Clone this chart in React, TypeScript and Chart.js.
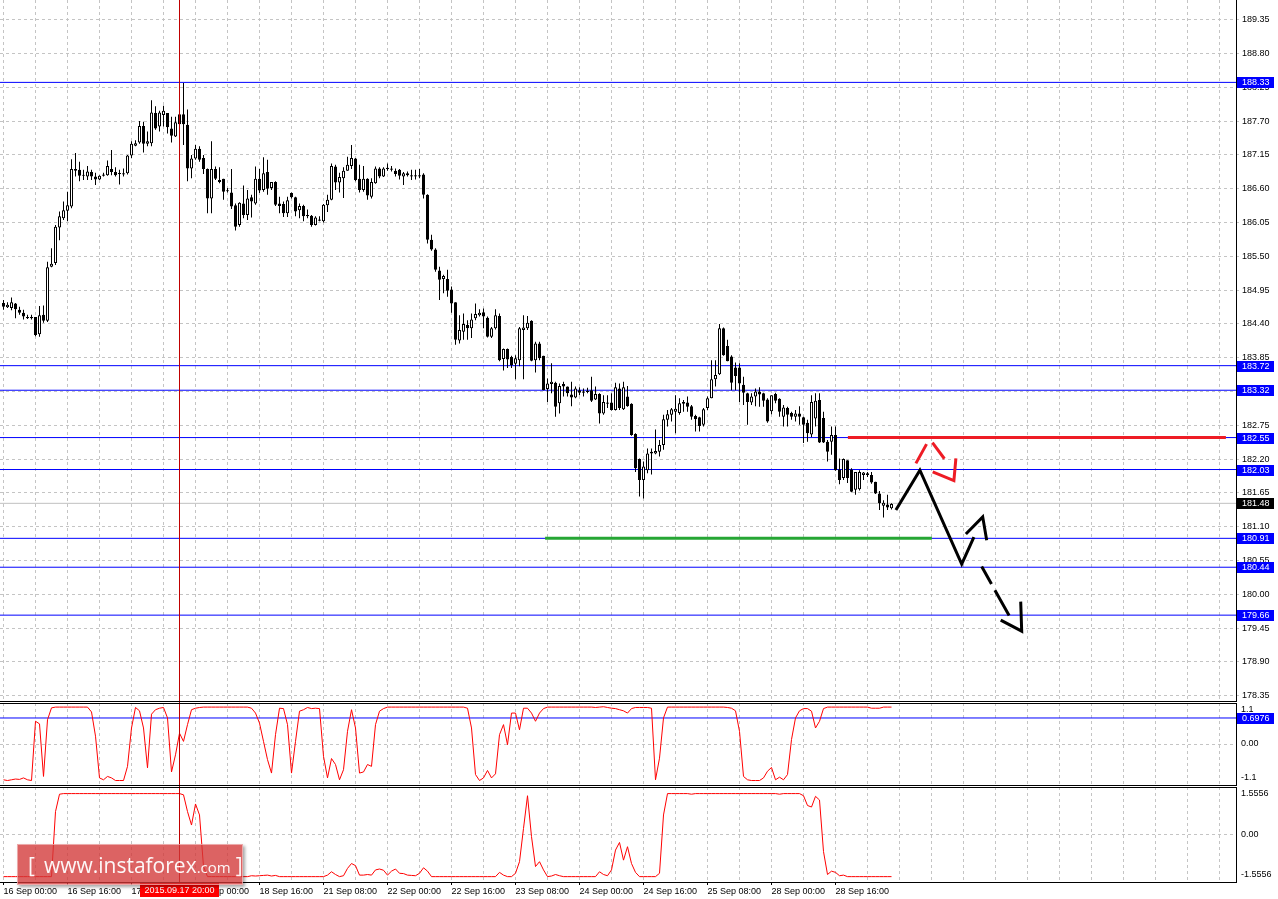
import React, { useEffect, useRef } from 'react';
import { Chart, registerables } from 'chart.js';

Chart.register(...registerables);

// ---------- DATA ----------
const opens = [
  184.74, 184.67, 184.66, 184.73, 184.63, 184.58, 184.51, 184.49, 184.51, 184.23,
  184.55, 184.45, 185.33, 185.39, 185.97, 186.12, 186.24, 186.31, 186.92, 186.91,
  186.81, 186.80, 186.87, 186.80, 186.75, 186.81, 186.82, 186.92, 186.87, 186.85,
  186.83, 186.85, 187.14, 187.30, 187.35, 187.62, 187.33, 187.34, 187.83, 187.61,
  187.80, 187.83, 187.58, 187.45, 187.65, 187.81, 187.64, 186.93, 187.09, 187.25,
  187.10, 186.92, 186.44, 186.92, 186.71, 186.76, 186.56, 186.54, 186.33, 186.01,
  186.36, 186.17, 186.46, 186.36, 186.76, 186.58, 186.87, 186.61, 186.71, 186.36,
  186.35, 186.20, 186.53, 186.46, 186.25, 186.32, 186.17, 186.16, 186.01, 186.08,
  186.07, 186.33, 186.42, 186.96, 186.70, 186.77, 186.89, 186.97, 187.09, 186.76,
  186.58, 186.76, 186.47, 186.69, 186.93, 186.80, 186.94, 186.91, 186.89, 186.91,
  186.80, 186.85, 186.82, 186.82, 186.82, 186.83, 186.50, 185.77, 185.61, 185.27,
  185.13, 185.13, 184.96, 184.75, 184.13, 184.27, 184.38, 184.33, 184.49, 184.54,
  184.59, 184.50, 184.19, 184.33, 184.53, 183.83, 183.99, 183.86, 183.75, 183.81,
  184.30, 184.33, 184.45, 183.81, 184.08, 183.88, 183.34, 183.42, 183.44, 183.11,
  183.42, 183.38, 183.25, 183.20, 183.32, 183.30, 183.29, 183.32, 183.17, 183.26,
  182.94, 183.12, 183.12, 183.00, 183.35, 183.01, 183.22, 183.10, 182.61, 182.20,
  181.86, 182.02, 182.32, 182.29, 182.32, 182.43, 182.84, 182.92, 182.97, 182.95,
  183.10, 183.12, 183.06, 182.90, 182.88, 182.76, 183.03, 183.19, 183.50, 183.58,
  184.33, 184.04, 183.87, 183.69, 183.69, 183.41, 183.27, 183.12, 183.22, 183.30,
  183.27, 183.17, 182.98, 183.26, 183.18, 182.89, 183.03, 182.95, 182.89, 182.94,
  182.88, 182.79, 182.60, 182.86, 183.16, 182.87, 182.48, 182.48, 182.59, 182.03,
  181.89, 182.18, 182.03, 181.70, 181.71, 181.94, 181.97, 181.94, 181.83, 181.64,
  181.44, 181.46, 181.40,
];
const highs = [
  184.79, 184.75, 184.83, 184.74, 184.68, 184.63, 184.55, 184.55, 184.51, 184.69,
  184.70, 185.41, 185.63, 186.01, 186.23, 186.39, 186.55, 187.08, 187.18, 187.04,
  186.91, 186.97, 186.91, 186.86, 186.82, 186.86, 187.06, 187.23, 186.95, 186.91,
  186.93, 187.15, 187.37, 187.39, 187.70, 187.69, 187.53, 188.04, 187.94, 187.87,
  187.95, 187.83, 187.77, 187.77, 187.92, 188.32, 187.89, 187.15, 187.31, 187.29,
  187.15, 186.93, 187.37, 186.96, 186.95, 186.76, 186.61, 186.92, 186.36, 186.38,
  186.65, 186.58, 186.50, 186.96, 186.92, 187.11, 187.07, 186.71, 186.72, 186.47,
  186.39, 186.47, 186.54, 186.47, 186.36, 186.34, 186.26, 186.17, 186.15, 186.15,
  186.35, 186.50, 187.01, 186.99, 186.86, 186.95, 187.12, 187.31, 187.10, 186.99,
  186.97, 186.77, 186.77, 186.96, 186.95, 186.95, 187.01, 186.97, 186.93, 186.92,
  186.87, 186.88, 186.91, 186.91, 186.92, 186.85, 186.51, 185.85, 185.63, 185.33,
  185.20, 185.28, 185.01, 184.75, 184.54, 184.57, 184.46, 184.57, 184.73, 184.64,
  184.65, 184.52, 184.35, 184.64, 184.57, 184.00, 184.00, 183.88, 183.89, 184.35,
  184.54, 184.53, 184.46, 184.11, 184.11, 183.88, 183.51, 183.76, 183.46, 183.43,
  183.46, 183.38, 183.46, 183.38, 183.37, 183.35, 183.36, 183.54, 183.38, 183.27,
  183.24, 183.24, 183.27, 183.44, 183.43, 183.46, 183.39, 183.11, 182.62, 182.21,
  182.16, 182.37, 182.37, 182.68, 182.51, 182.92, 183.00, 183.03, 183.24, 183.19,
  183.16, 183.22, 183.08, 182.92, 182.89, 183.03, 183.22, 183.81, 183.81, 184.40,
  184.34, 184.14, 183.89, 183.77, 183.76, 183.54, 183.28, 183.27, 183.35, 183.37,
  183.28, 183.19, 183.24, 183.28, 183.19, 183.08, 183.05, 182.97, 183.00, 183.06,
  182.89, 182.84, 183.24, 183.27, 183.27, 182.97, 182.51, 182.73, 182.73, 182.21,
  182.21, 182.18, 182.05, 181.99, 182.02, 181.99, 181.99, 181.99, 181.83, 181.68,
  181.53, 181.62, 181.48,
];
const lows = [
  184.63, 184.66, 184.62, 184.49, 184.55, 184.47, 184.48, 184.47, 184.20, 184.19,
  184.42, 184.43, 185.32, 185.36, 185.76, 186.09, 186.07, 186.28, 186.80, 186.72,
  186.74, 186.74, 186.74, 186.66, 186.74, 186.80, 186.81, 186.82, 186.80, 186.67,
  186.80, 186.83, 187.10, 187.29, 187.33, 187.19, 187.29, 187.29, 187.56, 187.53,
  187.61, 187.50, 187.35, 187.44, 187.60, 187.31, 186.72, 186.77, 187.07, 187.04,
  186.84, 186.20, 186.20, 186.74, 186.69, 186.42, 186.54, 186.27, 185.92, 185.98,
  186.12, 186.09, 186.13, 186.34, 186.53, 186.55, 186.50, 186.58, 186.32, 186.20,
  186.14, 186.14, 186.44, 186.15, 186.12, 186.07, 186.12, 185.98, 186.00, 186.07,
  186.05, 186.22, 186.41, 186.58, 186.54, 186.45, 186.89, 186.92, 186.72, 186.54,
  186.55, 186.42, 186.44, 186.68, 186.77, 186.79, 186.89, 186.88, 186.80, 186.75,
  186.66, 186.80, 186.74, 186.75, 186.77, 186.44, 185.71, 185.59, 185.25, 184.79,
  184.90, 184.84, 184.58, 184.06, 184.08, 184.14, 184.14, 184.17, 184.46, 184.52,
  184.33, 184.18, 184.17, 184.31, 183.79, 183.64, 183.68, 183.68, 183.50, 183.71,
  183.50, 184.30, 183.79, 183.61, 183.81, 183.32, 183.13, 183.27, 182.89, 182.94,
  183.22, 183.22, 183.06, 183.19, 183.24, 183.22, 183.27, 183.13, 183.16, 182.78,
  182.92, 183.03, 182.99, 182.99, 183.00, 183.00, 183.05, 182.58, 181.99, 181.59,
  181.56, 181.97, 181.95, 182.28, 182.24, 182.35, 182.73, 182.81, 182.62, 182.92,
  182.97, 182.97, 182.84, 182.65, 182.65, 182.73, 183.00, 183.19, 183.38, 183.57,
  183.88, 183.79, 183.32, 183.32, 183.13, 183.08, 182.76, 183.08, 183.06, 183.05,
  183.05, 182.79, 182.93, 183.11, 182.89, 182.73, 182.73, 182.84, 182.81, 182.76,
  182.46, 182.48, 182.56, 182.73, 182.46, 182.46, 182.16, 182.27, 182.01, 181.79,
  181.86, 181.81, 181.66, 181.62, 181.69, 181.86, 181.91, 181.80, 181.63, 181.37,
  181.25, 181.37, 181.38,
];
const closes = [
  184.68, 184.71, 184.75, 184.64, 184.58, 184.52, 184.49, 184.51, 184.22, 184.54,
  184.45, 185.32, 185.38, 185.98, 186.15, 186.25, 186.33, 186.92, 186.89, 186.81,
  186.81, 186.88, 186.80, 186.75, 186.81, 186.83, 186.97, 186.87, 186.82, 186.84,
  186.85, 187.14, 187.33, 187.34, 187.62, 187.33, 187.37, 187.84, 187.58, 187.84,
  187.87, 187.60, 187.46, 187.68, 187.81, 187.65, 186.93, 187.09, 187.25, 187.07,
  186.92, 186.44, 186.92, 186.76, 186.74, 186.55, 186.56, 186.31, 185.98, 186.37,
  186.17, 186.44, 186.39, 186.76, 186.57, 186.85, 186.60, 186.71, 186.34, 186.32,
  186.20, 186.41, 186.46, 186.23, 186.32, 186.15, 186.15, 186.01, 186.13, 186.10,
  186.34, 186.42, 186.97, 186.70, 186.79, 186.89, 186.99, 187.10, 186.74, 186.58,
  186.76, 186.49, 186.71, 186.93, 186.80, 186.93, 186.92, 186.93, 186.84, 186.81,
  186.85, 186.82, 186.80, 186.80, 186.80, 186.50, 185.77, 185.61, 185.28, 185.12,
  185.18, 184.94, 184.73, 184.14, 184.30, 184.40, 184.33, 184.47, 184.56, 184.58,
  184.52, 184.19, 184.33, 184.54, 183.81, 183.99, 183.82, 183.73, 183.84, 184.33,
  184.34, 184.42, 183.80, 184.08, 183.84, 183.32, 183.43, 183.46, 183.05, 183.39,
  183.38, 183.27, 183.20, 183.35, 183.28, 183.28, 183.31, 183.15, 183.26, 182.94,
  183.13, 183.10, 183.00, 183.37, 183.03, 183.37, 183.06, 182.59, 182.05, 181.86,
  182.08, 182.29, 182.29, 182.33, 182.43, 182.85, 182.93, 183.01, 183.02, 183.11,
  183.13, 183.05, 182.89, 182.85, 182.74, 183.01, 183.19, 183.50, 183.57, 184.33,
  183.89, 183.79, 183.44, 183.55, 183.43, 183.28, 183.13, 183.22, 183.30, 183.25,
  183.15, 182.81, 183.24, 183.15, 182.97, 183.04, 182.92, 182.89, 182.94, 182.89,
  182.76, 182.62, 183.13, 183.15, 182.47, 182.47, 182.32, 182.59, 182.02, 181.86,
  182.20, 181.89, 181.67, 181.99, 181.99, 181.98, 181.94, 181.82, 181.64, 181.48,
  181.49, 181.41, 181.47,
];

// indicator panel 1 (range -1.1 .. 1.1)
const fisherValues = [
  -0.96, -0.98, -0.96, -0.94, -0.95, -0.91, -0.96, -0.98, 0.61, 0.54,
  -0.87, 0.65, 0.97, 0.99, 0.99, 0.99, 0.99, 0.99, 0.99, 0.99,
  0.99, 0.99, 0.86, 0.21, -0.91, -0.96, -0.87, -0.91, -0.98, -0.98,
  -0.98, -0.60, 0.43, 0.98, 0.89, 0.43, -0.64, 0.80, 0.92, 0.96,
  0.98, 0.70, -0.75, -0.29, 0.29, 0.07, 0.52, 0.92, 0.96, 0.98,
  0.99, 0.99, 0.99, 0.99, 0.99, 0.99, 0.99, 0.99, 0.99, 0.99,
  0.99, 0.99, 0.96, 0.83, 0.56, 0.07, -0.42, -0.78, 0.25, 0.96,
  0.95, 0.52, -0.78, 0.07, 0.88, 0.92, 0.98, 0.95, 0.96, 0.95,
  -0.33, -0.91, -0.39, -0.55, -0.96, -0.69, 0.34, 0.92, 0.43, -0.78,
  -0.75, -0.55, -0.60, 0.52, 0.88, 0.95, 0.99, 0.99, 0.99, 0.99,
  0.99, 0.99, 0.99, 0.99, 0.99, 0.99, 0.99, 0.99, 0.99, 0.99,
  0.99, 0.99, 0.99, 0.99, 0.99, 0.99, 0.96, 0.43, -0.82, -0.98,
  -0.91, -0.71, -0.91, -0.80, 0.25, 0.52, -0.02, 0.83, 0.83, 0.38,
  0.96, 0.96, 0.83, 0.61, 0.83, 0.95, 0.99, 0.99, 0.99, 0.99,
  0.99, 0.99, 0.99, 0.99, 0.99, 0.99, 0.99, 0.99, 0.98, 0.99,
  1.00, 0.98, 0.96, 0.95, 0.92, 0.89, 0.83, 0.95, 0.98, 0.98,
  0.98, 0.98, 0.96, -0.96, -0.38, 0.70, 0.99, 0.99, 0.99, 0.99,
  0.99, 0.99, 0.99, 0.99, 0.99, 0.99, 0.99, 0.99, 0.99, 0.99,
  0.99, 0.98, 0.96, 0.89, 0.34, -0.87, -0.96, -0.98, -0.98, -0.98,
  -0.91, -0.73, -0.63, -0.96, -0.89, -0.96, -0.82, 0.12, 0.70, 0.89,
  0.95, 0.95, 0.88, 0.43, 0.61, 0.95, 0.99, 0.99, 0.99, 0.99,
  0.99, 0.99, 0.99, 0.99, 0.99, 0.99, 0.99, 0.96, 0.96, 0.96,
  0.99, 0.99, 0.99,
];

// indicator panel 2 (range -1.5556 .. 1.5556)
const oscValues = [
  -1.38, -1.38, -1.38, -1.38, -1.38, -1.38, -1.38, -1.38, -1.38, -1.38,
  -1.38, -1.38, -1.38, 0.75, 1.32, 1.34, 1.34, 1.34, 1.34, 1.34,
  1.34, 1.34, 1.34, 1.34, 1.34, 1.34, 1.34, 1.34, 1.34, 1.34,
  1.34, 1.34, 1.34, 1.34, 1.34, 1.34, 1.34, 1.34, 1.34, 1.34,
  1.34, 1.34, 1.34, 1.34, 1.34, 1.30, 0.75, 0.31, 1.00, 0.64,
  -1.05, -1.38, -1.38, -1.38, -1.38, -1.38, -1.38, -1.38, -1.38, -1.38,
  -1.38, -1.38, -1.35, -1.36, -1.35, -1.34, -1.33, -1.36, -1.34, -1.38,
  -1.38, -1.38, -1.38, -1.38, -1.38, -1.38, -1.38, -1.38, -1.38, -1.38,
  -1.38, -1.33, -1.22, -1.31, -1.38, -1.35, -1.11, -0.95, -1.02, -1.33,
  -1.33, -1.31, -1.33, -1.16, -1.13, -1.17, -1.33, -1.20, -1.13, -1.27,
  -1.28, -1.33, -1.34, -1.35, -1.27, -1.09, -1.20, -1.38, -1.38, -1.38,
  -1.38, -1.38, -1.38, -1.38, -1.38, -1.38, -1.38, -1.38, -1.38, -1.38,
  -1.38, -1.38, -1.38, -1.38, -1.24, -1.33, -1.38, -1.38, -1.27, -0.89,
  0.20, 1.27, -0.07, -1.05, -0.89, -1.16, -1.38, -1.36, -1.31, -1.35,
  -1.38, -1.38, -1.38, -1.38, -1.38, -1.38, -1.38, -1.38, -1.38, -1.22,
  -1.31, -1.35, -1.16, -0.51, -0.26, -0.84, -0.40, -0.95, -1.24, -1.38,
  -1.38, -1.38, -1.38, -1.38, -1.27, 0.64, 1.34, 1.34, 1.34, 1.34,
  1.34, 1.34, 1.32, 1.34, 1.34, 1.34, 1.34, 1.34, 1.34, 1.34,
  1.34, 1.34, 1.34, 1.34, 1.34, 1.34, 1.34, 1.34, 1.34, 1.34,
  1.34, 1.34, 1.34, 1.34, 1.32, 1.34, 1.34, 1.34, 1.34, 1.34,
  1.27, 0.95, 0.90, 1.25, 1.13, -0.56, -1.31, -1.20, -1.24, -1.35,
  -1.33, -1.38, -1.38, -1.38, -1.38, -1.38, -1.38, -1.38, -1.38, -1.38,
  -1.38, -1.38, -1.38,
];

const levels = [188.33, 183.72, 183.32, 182.55, 182.03, 180.91, 180.44, 179.66];
const bidPrice = 181.48;
const priceTicks = [
  178.35, 178.9, 179.45, 180.0, 180.55, 181.1, 181.65, 182.2, 182.75, 183.3,
  183.85, 184.4, 184.95, 185.5, 186.05, 186.6, 187.15, 187.7, 188.25, 188.8, 189.35,
];
const timeLabels = [
  '16 Sep 00:00', '16 Sep 16:00', '17 Sep 08:00', '18 Sep 00:00', '18 Sep 16:00',
  '21 Sep 08:00', '22 Sep 00:00', '22 Sep 16:00', '23 Sep 08:00', '24 Sep 00:00',
  '24 Sep 16:00', '25 Sep 08:00', '28 Sep 00:00', '28 Sep 16:00',
];
const timeLabelStep = 16;
const gridStep = 8;
const crosshairIndex = 44;
const crosshairLabel = '2015.09.17 20:00';

const fisherLevel = 0.6976;
const fisherAxisLabels = ['1.1', '0.00', '-1.1'];
const oscAxisLabels = ['1.5556', '0.00', '-1.5556'];

// drawn objects, in (bar index, price)
const resistanceLine = [[211.1, 182.55], [305.6, 182.55]];
const supportLine = [[135.4, 180.91], [232.1, 180.91]];
const blackSolidPath = [[223.1, 181.37], [229.1, 182.02], [239.55, 180.49], [242.6, 180.93]];
const blackSolidHead = [[240.6, 180.98], [244.8, 181.26], [245.8, 180.88]];
const blackDashPath = [[244.55, 180.45], [251.45, 179.65]];
const blackDashHead = [[249.3, 179.58], [254.55, 179.4], [254.3, 179.88]];
const redDashPath = [[228.1, 182.13], [231.5, 182.53], [235.4, 182.19]];
const redDashHead = [[232.3, 181.99], [237.6, 181.85], [238.1, 182.21]];

// ---------- LAYOUT ----------
const W = 1278;
const AXIS_W = 42;
const X_MIN = -0.875;
const X_MAX = 308.125;
const Y_MIN = 178.263;
const Y_MAX = 189.6706;
const FONT = { family: '"Liberation Sans", Arial, sans-serif', size: 9 };
const FONT_CSS = '9px "Liberation Sans", Arial, sans-serif';
const gridTicks = Array.from({ length: 39 }, (_, k) => k * gridStep);

const pts = (arr: number[][]) => arr.map(([x, y]) => ({ x, y }));

function labelAt(v: number) {
  const k = v / timeLabelStep;
  return Number.isInteger(k) && k >= 0 && k < timeLabels.length ? timeLabels[k] : '';
}

function xAxis(withLabels: boolean): any {
  return {
    type: 'linear',
    position: 'bottom',
    min: X_MIN,
    max: X_MAX,
    bounds: 'data',
    offset: false,
    afterBuildTicks: (a: any) => {
      a.ticks = gridTicks.map((v) => ({ value: v }));
    },
    afterFit: (a: any) => {
      a.height = withLabels ? 17 : 0;
      a.paddingLeft = 0;
      a.paddingRight = 0;
    },
    grid: {
      offset: false,
      color: '#c4c4c4',
      lineWidth: 1,
      drawTicks: withLabels,
      tickLength: 3,
      tickWidth: 1,
      tickBorderDash: [],
      tickColor: (c: any) => (c.tick && labelAt(c.tick.value) ? '#000' : 'rgba(0,0,0,0)'),
    },
    border: { display: false, dash: [3, 3] },
    ticks: {
      display: withLabels,
      autoSkip: false,
      maxRotation: 0,
      minRotation: 0,
      align: 'start',
      padding: 1,
      color: '#000',
      font: FONT,
      callback: (v: any) => labelAt(Number(v)),
    },
  };
}

function panelY(min: number, max: number): any {
  return {
    type: 'linear',
    position: 'right',
    min,
    max,
    bounds: 'data',
    afterBuildTicks: (a: any) => {
      a.ticks = [{ value: 0 }];
    },
    afterFit: (a: any) => {
      a.width = AXIS_W;
      a.paddingTop = 0;
      a.paddingBottom = 0;
    },
    grid: { color: '#c4c4c4', drawTicks: false },
    border: { display: false, dash: [3, 3] },
    ticks: { display: false },
  };
}

function drawTag(ctx: CanvasRenderingContext2D, text: string, x: number, y: number, bg: string) {
  const yy = Math.round(y);
  ctx.save();
  ctx.fillStyle = bg;
  ctx.fillRect(x, yy - 5, 37, 11);
  ctx.fillStyle = '#fff';
  ctx.font = FONT_CSS;
  ctx.textBaseline = 'middle';
  ctx.textAlign = 'left';
  ctx.fillText(text, x + 5, yy + 0.5);
  ctx.restore();
}

const baseOptions: any = {
  responsive: false,
  animation: false,
  devicePixelRatio: 1,
  events: [],
  plugins: { legend: { display: false }, tooltip: { enabled: false } },
};

function mainConfig(): any {
  const lineDs = (data: number[][], color: string, width: number, order: number, dash: number[] = []) => ({
    type: 'line',
    data: pts(data),
    borderColor: color,
    borderWidth: width,
    borderDash: dash,
    pointRadius: 0,
    fill: false,
    tension: 0,
    order,
  });
  const datasets: any[] = [
    lineDs(blackSolidPath, '#000', 3, 1),
    lineDs(blackSolidHead, '#000', 3, 1),
    lineDs(blackDashPath, '#000', 3, 1, [20, 7, 29, 30]),
    lineDs(blackDashHead, '#000', 3, 1),
    lineDs(redDashPath, '#ee1c25', 3, 1, [22, 11, 20, 100]),
    lineDs(redDashHead, '#ee1c25', 3, 1),
    {
      type: 'bar',
      data: opens.map((o, i) => ({ x: i, y: [o, closes[i]] })),
      backgroundColor: opens.map((o, i) => (closes[i] >= o ? '#ffffff' : '#000000')),
      borderColor: '#000',
      borderWidth: 1,
      borderSkipped: false,
      grouped: false,
      barThickness: 3,
      inflateAmount: 0,
      minBarLength: 1,
      order: 5,
    },
    {
      type: 'bar',
      data: lows.map((l, i) => ({ x: i, y: [l, highs[i]] })),
      backgroundColor: '#000',
      borderWidth: 0,
      grouped: false,
      barThickness: 1,
      inflateAmount: 0,
      order: 6,
    },
    lineDs(resistanceLine, '#ee1c25', 3, 8),
    lineDs(supportLine, '#26a634', 3, 8),
    lineDs([[X_MIN, bidPrice], [X_MAX, bidPrice]], '#c0c0c0', 1, 9),
    ...levels.map((l) => lineDs([[X_MIN, l], [X_MAX, l]], '#0000ff', 1, 10)),
  ];
  return {
    type: 'bar',
    data: { datasets },
    options: {
      ...baseOptions,
      layout: { autoPadding: false, padding: { top: 0, bottom: 1, left: 0, right: 0 } },
      scales: {
        x: xAxis(false),
        y: {
          type: 'linear',
          position: 'right',
          min: Y_MIN,
          max: Y_MAX,
          bounds: 'data',
          stacked: false,
          afterBuildTicks: (a: any) => {
            a.ticks = priceTicks.map((v) => ({ value: v }));
          },
          afterFit: (a: any) => {
            a.width = AXIS_W;
            a.paddingTop = 0;
            a.paddingBottom = 0;
          },
          grid: { color: '#c4c4c4', tickLength: 3, tickColor: '#c4c4c4', tickBorderDash: [] },
          border: { display: false, dash: [3, 3] },
          ticks: {
            color: '#000',
            font: FONT,
            padding: 3,
            autoSkip: false,
            callback: (v: any) => Number(v).toFixed(2),
          },
        },
      },
    },
    plugins: [
      {
        id: 'mainDeco',
        afterDatasetsDraw(chart: any) {
          const { ctx, chartArea: a, scales } = chart;
          const px = Math.floor(scales.x.getPixelForValue(crosshairIndex));
          ctx.save();
          ctx.fillStyle = '#c00000';
          ctx.fillRect(px, 0, 1, a.bottom + 1);
          ctx.restore();
        },
        afterDraw(chart: any) {
          const { ctx, chartArea: a, scales } = chart;
          ctx.save();
          ctx.fillStyle = '#000';
          ctx.fillRect(0, a.bottom, a.right + 1, 1);
          ctx.fillRect(a.right, 0, 1, a.bottom + 1);
          ctx.restore();
          levels.forEach((l) => drawTag(ctx, l.toFixed(2), a.right + 1, scales.y.getPixelForValue(l), '#0000ff'));
          drawTag(ctx, bidPrice.toFixed(2), a.right + 1, scales.y.getPixelForValue(bidPrice), '#000');
        },
      },
    ],
  };
}

function panelConfig(values: number[], min: number, max: number, labels: string[], withX: boolean, level: number | null): any {
  const datasets: any[] = [
    {
      type: 'line',
      data: values.map((v, i) => ({ x: i, y: v })),
      borderColor: '#ff0000',
      borderWidth: 1,
      pointRadius: 0,
      fill: false,
      tension: 0,
      order: 1,
    },
  ];
  if (level !== null) {
    datasets.push({
      type: 'line',
      data: [{ x: X_MIN, y: level }, { x: X_MAX, y: level }],
      borderColor: '#0000ff',
      borderWidth: 1,
      pointRadius: 0,
      fill: false,
      order: 2,
    });
  }
  return {
    type: 'line',
    data: { datasets },
    options: {
      ...baseOptions,
      layout: { autoPadding: false, padding: { top: 1, bottom: withX ? 0 : 1, left: 0, right: 0 } },
      scales: { x: xAxis(withX), y: panelY(min, max) },
    },
    plugins: [
      {
        id: 'panelDeco',
        afterDatasetsDraw(chart: any) {
          const { ctx, chartArea: a, scales } = chart;
          const px = Math.floor(scales.x.getPixelForValue(crosshairIndex));
          ctx.save();
          ctx.fillStyle = '#c00000';
          ctx.fillRect(px, 0, 1, a.bottom);
          ctx.restore();
        },
        afterDraw(chart: any) {
          const { ctx, chartArea: a, scales } = chart;
          ctx.save();
          ctx.fillStyle = '#000';
          ctx.fillRect(0, a.top, a.right + 1, 1);
          ctx.fillRect(0, a.bottom, a.right + 1, 1);
          ctx.fillRect(a.right, a.top, 1, a.bottom - a.top + 1);
          ctx.font = FONT_CSS;
          ctx.textAlign = 'left';
          ctx.textBaseline = 'middle';
          ctx.fillText(labels[0], a.right + 5, a.top + 7);
          ctx.fillText(labels[1], a.right + 5, scales.y.getPixelForValue(0));
          ctx.fillText(labels[2], a.right + 5, a.bottom - 7);
          ctx.restore();
          if (level !== null) {
            drawTag(ctx, level.toFixed(4), a.right + 1, scales.y.getPixelForValue(level), '#0000ff');
          }
          if (withX) {
            const cx = Math.floor(scales.x.getPixelForValue(crosshairIndex));
            ctx.save();
            ctx.fillStyle = '#ff0000';
            ctx.fillRect(cx - 39, a.bottom + 1, 79, 14);
            ctx.fillStyle = '#fff';
            ctx.font = FONT_CSS;
            ctx.textAlign = 'center';
            ctx.textBaseline = 'middle';
            ctx.fillText(crosshairLabel, cx + 0.5, a.bottom + 8.5);
            ctx.restore();
          }
        },
      },
    ],
  };
}

export default function App() {
  const mainRef = useRef<HTMLCanvasElement>(null);
  const p1Ref = useRef<HTMLCanvasElement>(null);
  const p2Ref = useRef<HTMLCanvasElement>(null);

  useEffect(() => {
    const c1 = new Chart(mainRef.current as HTMLCanvasElement, mainConfig());
    const c2 = new Chart(
      p1Ref.current as HTMLCanvasElement,
      panelConfig(fisherValues, -1.1, 1.1, fisherAxisLabels, false, fisherLevel)
    );
    const c3 = new Chart(
      p2Ref.current as HTMLCanvasElement,
      panelConfig(oscValues, -1.5556, 1.5556, oscAxisLabels, true, null)
    );
    return () => {
      c1.destroy();
      c2.destroy();
      c3.destroy();
    };
  }, []);

  return (
    <div
      style={{
        position: 'fixed',
        left: 0,
        top: 0,
        width: W,
        height: 899,
        background: '#fff',
        overflow: 'hidden',
      }}
    >
      <canvas ref={mainRef} width={W} height={702} style={{ position: 'absolute', left: 0, top: 0, display: 'block' }} />
      <canvas ref={p1Ref} width={W} height={84} style={{ position: 'absolute', left: 0, top: 702, display: 'block' }} />
      <canvas ref={p2Ref} width={W} height={113} style={{ position: 'absolute', left: 0, top: 786, display: 'block' }} />
      <div
        style={{
          position: 'absolute',
          left: 17,
          top: 844,
          width: 226,
          height: 41,
          boxSizing: 'border-box',
          background: 'rgba(210,55,55,0.78)',
          border: '1px solid rgba(255,255,255,0.45)',
          boxShadow: '2px 2px 3px rgba(0,0,0,0.35)',
          color: 'rgba(255,255,255,0.95)',
          fontFamily: '"Open Sans", sans-serif',
          whiteSpace: 'nowrap',
          display: 'flex',
          alignItems: 'center',
        }}
      >
        <span style={{ fontSize: 21, marginLeft: 10 }}>[</span>
        <span style={{ fontSize: 21, marginLeft: 9 }}>www.instaforex</span>
        <span style={{ fontSize: 15, position: 'relative', top: 2 }}>.com</span>
        <span style={{ fontSize: 21, marginLeft: 5 }}>]</span>
      </div>
    </div>
  );
}
